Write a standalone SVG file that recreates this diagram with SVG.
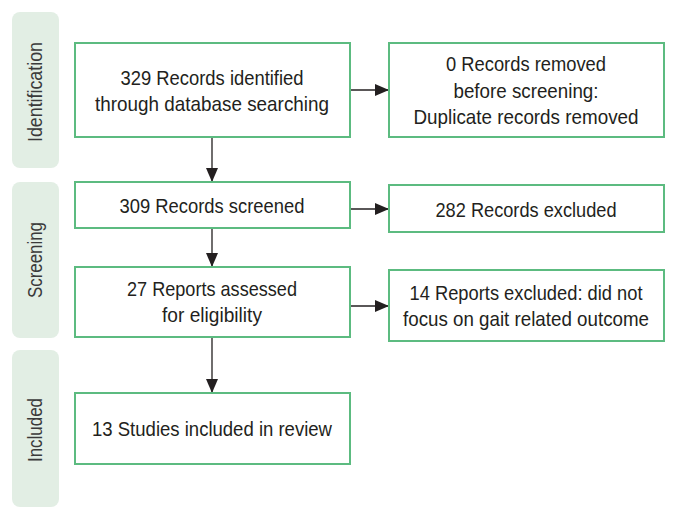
<svg xmlns="http://www.w3.org/2000/svg" width="677" height="520" viewBox="0 0 677 520">
<style>
.bar{fill:#e2eee4;}
.box{fill:#fff;stroke:#5cbb80;stroke-width:2;}
.t{font-family:"Liberation Sans",Arial,sans-serif;font-size:21px;fill:#231f20;text-anchor:middle;}
.s{font-family:"Liberation Sans",Arial,sans-serif;font-size:21px;fill:#3a3a3a;text-anchor:middle;}
.c{stroke:#231f20;stroke-width:1.3;fill:none;marker-end:url(#ah);}
</style>
<defs>
<marker id="ah" markerWidth="14" markerHeight="12" refX="14" refY="6" orient="auto" markerUnits="userSpaceOnUse">
<path d="M0,0 L14,6 L0,12 Z" fill="#231f20"/>
</marker>
</defs>
<rect width="677" height="520" fill="#fff"/>
<g id="stage-identification">
<rect class="bar" x="12" y="12" width="47" height="156" rx="8"/>
<text class="s" transform="translate(42,92) rotate(-90)" textLength="100" lengthAdjust="spacingAndGlyphs">Identification</text>
</g>
<g id="stage-screening">
<rect class="bar" x="12" y="182" width="47" height="156" rx="8"/>
<text class="s" transform="translate(42,260) rotate(-90)" textLength="76" lengthAdjust="spacingAndGlyphs">Screening</text>
</g>
<g id="stage-included">
<rect class="bar" x="12" y="350" width="47" height="157" rx="8"/>
<text class="s" transform="translate(42,430) rotate(-90)" textLength="64" lengthAdjust="spacingAndGlyphs">Included</text>
</g>
<g id="connectors">
<path class="c" d="M212,137 V182"/>
<path class="c" d="M212,228 V267"/>
<path class="c" d="M212,337 V393"/>
<path class="c" d="M350,90 H389"/>
<path class="c" d="M350,209 H389"/>
<path class="c" d="M350,306 H389"/>
</g>
<g id="identified">
<rect class="box" x="75" y="43" width="275" height="94"/>
<text class="t" x="212" y="85" textLength="183" lengthAdjust="spacingAndGlyphs">329 Records identified</text>
<text class="t" x="212" y="111" textLength="234" lengthAdjust="spacingAndGlyphs">through database searching</text>
</g>
<g id="removed">
<rect class="box" x="389" y="43" width="275" height="94"/>
<text class="t" x="526" y="71" textLength="160" lengthAdjust="spacingAndGlyphs">0 Records removed</text>
<text class="t" x="526" y="98" textLength="145" lengthAdjust="spacingAndGlyphs">before screening:</text>
<text class="t" x="526" y="124" textLength="225" lengthAdjust="spacingAndGlyphs">Duplicate records removed</text>
</g>
<g id="screened">
<rect class="box" x="75" y="182" width="275" height="46"/>
<text class="t" x="212" y="213" textLength="185" lengthAdjust="spacingAndGlyphs">309 Records screened</text>
</g>
<g id="excluded">
<rect class="box" x="389" y="185" width="275" height="47"/>
<text class="t" x="526" y="217" textLength="181" lengthAdjust="spacingAndGlyphs">282 Records excluded</text>
</g>
<g id="assessed">
<rect class="box" x="75" y="267" width="275" height="70"/>
<text class="t" x="212" y="296" textLength="170" lengthAdjust="spacingAndGlyphs">27 Reports assessed</text>
<text class="t" x="212" y="322" textLength="100" lengthAdjust="spacingAndGlyphs">for eligibility</text>
</g>
<g id="reports-excluded">
<rect class="box" x="389" y="270" width="275" height="71"/>
<text class="t" x="526" y="300" textLength="233" lengthAdjust="spacingAndGlyphs">14 Reports excluded: did not</text>
<text class="t" x="526" y="326" textLength="246" lengthAdjust="spacingAndGlyphs">focus on gait related outcome</text>
</g>
<g id="included">
<rect class="box" x="75" y="393" width="275" height="71"/>
<text class="t" x="212" y="436" textLength="240" lengthAdjust="spacingAndGlyphs">13 Studies included in review</text>
</g>
</svg>
